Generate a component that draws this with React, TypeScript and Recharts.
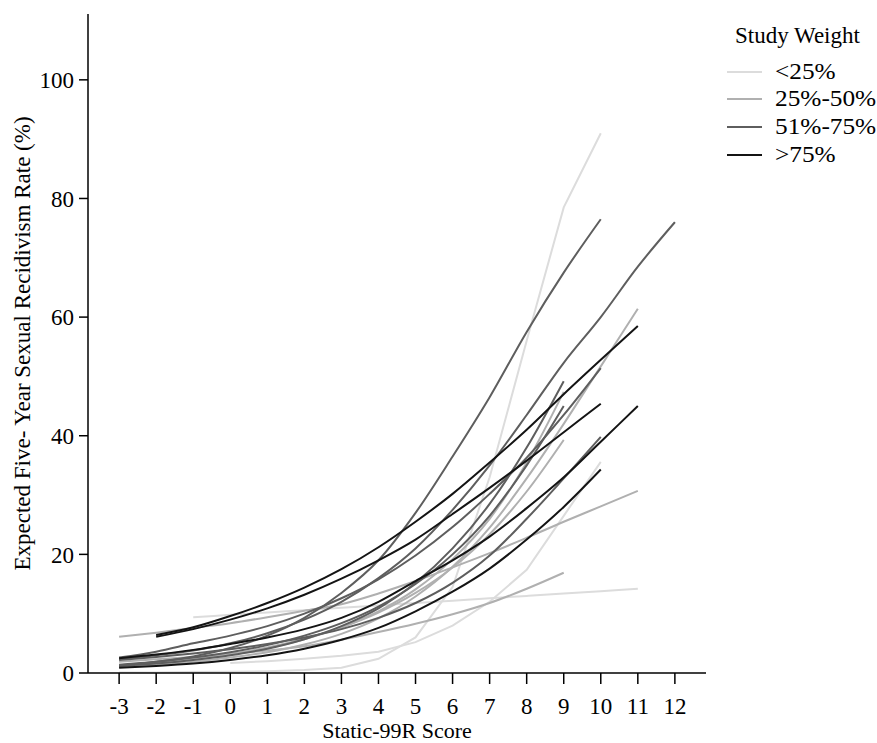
import React from 'react'
import { LineChart, Line, XAxis, YAxis } from 'recharts'

// ── Data ──────────────────────────────────────────────────────────────────────
// Each curve: first score on the x axis, then one rate (%) per score step.

const X_TICKS = [-3, -2, -1, 0, 1, 2, 3, 4, 5, 6, 7, 8, 9, 10, 11, 12]
const Y_TICKS = [0, 20, 40, 60, 80, 100]

const GROUPS = ['<25%', '25%-50%', '51%-75%', '>75%']
const GROUP_COLORS = ['#dcdcdc', '#b0b0b0', '#5e5e5e', '#141414']

interface Curve { group: number; start: number; values: number[]; linear?: boolean }

const CURVES_LT25: Curve[] = [
  { group: 0, start: -3, linear: true, values: [0.1, 0.1, 0.15, 0.2, 0.3, 0.5, 0.9, 2.4, 6, 14.5, 33, 56, 78.5, 91] },
  { group: 0, start: -1, values: [9.4, 9.8, 10.2, 10.6, 11.0, 11.4, 11.8, 12.2, 12.6, 13.0, 13.4, 13.8, 14.2] },
  { group: 0, start: 0, linear: true, values: [1.7, 2.0, 2.4, 2.9, 3.6, 5.2, 8, 12, 17.4, 26.5, 35.6] },
]

const CURVES_25_50: Curve[] = [
  { group: 1, start: -3, values: [6.1, 6.8, 7.6, 8.4, 9.4, 10.5, 11.6, 13.4, 15.5, 17.8, 20.2, 22.8, 25.5, 28.1, 30.7] },
  { group: 1, start: -3, values: [1.0, 1.4, 1.9, 2.6, 3.5, 4.8, 6.6, 9.2, 12.9, 17.9, 24.5, 32.8, 42, 51.7, 61.4] },
  { group: 1, start: -3, values: [1.3, 1.7, 2.3, 3.1, 4.2, 5.7, 7.7, 10.4, 14.1, 19.2, 26, 35.5, 47.4] },
  { group: 1, start: -3, values: [1.3, 1.8, 2.4, 3.2, 4.3, 5.8, 7.7, 10.2, 13.5, 17.8, 23.4, 30.6, 39.3] },
  { group: 1, start: -3, values: [1.9, 2.3, 2.7, 3.2, 3.8, 4.5, 5.6, 6.9, 8.3, 9.9, 11.8, 14.2, 16.9] },
]

const CURVES_51_75: Curve[] = [
  { group: 2, start: -3, values: [1.2, 1.9, 2.8, 4.2, 6.3, 9.3, 13.5, 19, 27, 36.5, 46.5, 57.5, 67.5, 76.5] },
  { group: 2, start: -3, values: [2.3, 3.0, 3.8, 5.0, 6.7, 9.0, 12, 16, 21, 27.5, 35, 43.5, 52.3, 60, 68.5, 76] },
  { group: 2, start: -3, values: [2.6, 3.6, 5.0, 6.3, 7.9, 10.0, 12.6, 15.8, 19.8, 24.6, 30.2, 36.3, 43.5, 51.4] },
  { group: 2, start: -3, values: [1.2, 1.6, 2.2, 3.0, 4.1, 5.7, 7.9, 10.9, 15.2, 21, 28.5, 38, 49.2] },
  { group: 2, start: -3, values: [1.4, 1.9, 2.6, 3.5, 4.7, 6.3, 8.4, 11.2, 15, 20, 26.5, 35, 45] },
  { group: 2, start: -3, values: [2.2, 2.7, 3.3, 4.0, 4.9, 6.0, 7.4, 9.3, 11.8, 15.2, 19.8, 26, 32.8, 39.8] },
]

const CURVES_GT75: Curve[] = [
  { group: 3, start: -2, values: [6.4, 7.7, 9.6, 11.8, 14.4, 17.5, 21.2, 25.5, 30.2, 35.5, 41, 47, 52.8, 58.5] },
  { group: 3, start: -2, values: [6.1, 7.4, 9.0, 10.9, 13.2, 15.9, 19, 22.5, 26.8, 31.2, 35.8, 40.6, 45.4] },
  { group: 3, start: -3, values: [2.5, 3.1, 3.9, 4.9, 6.0, 7.4, 9.3, 12.0, 15.5, 19, 23, 27.8, 33, 39, 45] },
  { group: 3, start: -3, values: [0.9, 1.2, 1.6, 2.2, 3.0, 4.1, 5.6, 7.6, 10.4, 13.7, 17.6, 22.5, 28, 34.3] },
]

const CURVES = [...CURVES_LT25, ...CURVES_25_50, ...CURVES_51_75, ...CURVES_GT75]

function toPoints(c: Curve) {
  return c.values.map((y, i) => ({ x: c.start + i, y }))
}

const FONT = '"Liberation Serif", "Times New Roman", serif'

// ── Legend ────────────────────────────────────────────────────────────────────

function WeightLegend() {
  return (
    <div style={{
      position: 'absolute', left: 727, top: 22, width: 150,
      fontFamily: FONT, fontSize: 23, color: '#000', lineHeight: '27.7px',
    }}>
      <div style={{ marginLeft: 8, marginBottom: 8 }}>Study Weight</div>
      {GROUPS.map((g, i) => (
        <div key={g} style={{ display: 'flex', alignItems: 'center' }}>
          <svg width={48} height={10}>
            <line x1={0} y1={5} x2={35} y2={5} stroke={GROUP_COLORS[i]} strokeWidth={2} />
          </svg>
          <span style={{ display: 'inline-block', transform: 'scaleX(1.1)', transformOrigin: 'left center' }}>{g}</span>
        </div>
      ))}
    </div>
  )
}

// ── Main ──────────────────────────────────────────────────────────────────────

export default function App() {
  return (
    <div style={{ position: 'absolute', left: 0, top: 0, width: 877, height: 743, background: '#fff' }}>
      <LineChart width={877} height={743} margin={{ top: 14, right: 171, bottom: 0, left: 0 }}>
        <XAxis
          type="number"
          dataKey="x"
          domain={[-3.84, 12.84]}
          ticks={X_TICKS}
          allowDataOverflow
          height={70}
          stroke="#000"
          strokeWidth={1.5}
          tickSize={11}
          tickMargin={14}
          tick={{ fontSize: 23, fill: '#000', fontFamily: FONT }}
          label={{ value: 'Static-99R Score', position: 'insideBottom', offset: 5, fontSize: 22, fill: '#000', fontFamily: FONT }}
        />
        <YAxis
          type="number"
          domain={[0, 111.1]}
          ticks={Y_TICKS}
          allowDataOverflow
          width={88}
          stroke="#000"
          strokeWidth={1.5}
          tickSize={9}
          tickMargin={5}
          tick={{ fontSize: 23, fill: '#000', fontFamily: FONT }}
          label={{
            value: 'Expected Five- Year Sexual Recidivism Rate (%)',
            angle: -90,
            position: 'insideLeft',
            offset: 22,
            fontSize: 23,
            fill: '#000',
            fontFamily: FONT,
            style: { textAnchor: 'middle' },
          }}
        />
        {CURVES.map((c, i) => (
          <Line
            key={i}
            data={toPoints(c)}
            dataKey="y"
            type={c.linear ? 'linear' : 'monotone'}
            stroke={GROUP_COLORS[c.group]}
            strokeWidth={2}
            dot={false}
            activeDot={false}
            legendType="none"
            isAnimationActive={false}
          />
        ))}
      </LineChart>
      <WeightLegend />
    </div>
  )
}
